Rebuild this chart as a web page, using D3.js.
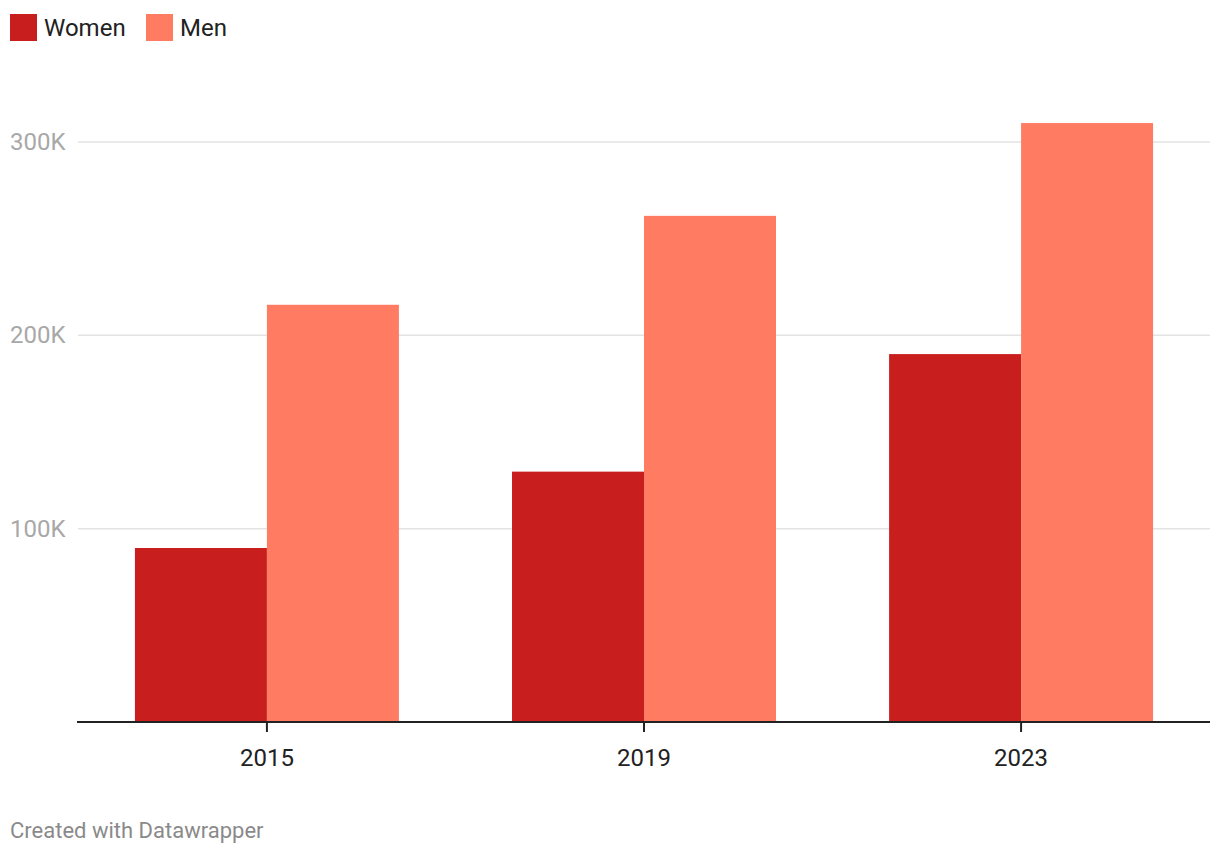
<!DOCTYPE html>
<html><head><meta charset="utf-8">
<script src="https://cdn.jsdelivr.net/npm/d3@7"></script>
<style>body{margin:0;background:#fff;font-family:Roboto,sans-serif}</style>
</head><body><svg id="c" width="1220" height="854"></svg>
<script>
const years = ["2015","2019","2023"];
const seriesNames = ["Women","Men"];
const women = [90000,129500,190300];
const men = [215800,261800,309800];
const yTicks = [100000,200000,300000];
const tickLabels = ["100K","200K","300K"];
const colors = ["#c91e1e","#ff7b62"];

const svg = d3.select("#c");
const x0 = d3.scaleBand().domain(years).range([78,1210]).paddingInner(0.3).paddingOuter(0.151);
const x1 = d3.scaleBand().domain(seriesNames).range([0,x0.bandwidth()]);
const y = d3.scaleLinear().domain([0,300000]).range([722,142]);

// grid
svg.append("g").selectAll("line").data(yTicks).join("line")
  .attr("x1",78).attr("x2",1210).attr("y1",d=>y(d)).attr("y2",d=>y(d))
  .attr("stroke","#e3e3e3").attr("stroke-width",1.5);
svg.append("g").selectAll("text").data(yTicks).join("text")
  .attr("x",10).attr("y",d=>y(d)+8).attr("fill","#a8a8a8").attr("font-size",24)
  .text((d,i)=>tickLabels[i]);

const data = years.map((yr,i)=>({yr, vals:[women[i],men[i]]}));
svg.append("g").selectAll("g").data(data).join("g")
  .attr("transform",d=>`translate(${x0(d.yr)},0)`)
  .selectAll("rect").data(d=>d.vals.map((v,j)=>({v,s:seriesNames[j],c:colors[j]}))).join("rect")
  .attr("x",d=>x1(d.s)).attr("width",x1.bandwidth())
  .attr("y",d=>y(d.v)).attr("height",d=>722-y(d.v)).attr("fill",d=>d.c);

// axis
const xAxis = d3.axisBottom(x0).tickSize(10).tickPadding(0);
const ax = svg.append("g").attr("transform","translate(0,722)").call(xAxis);
ax.select(".domain").remove();
ax.selectAll(".tick line").attr("stroke","#222").attr("stroke-width",2);
ax.selectAll(".tick text").attr("font-size",24).attr("fill","#222").attr("font-family","Roboto,sans-serif")
  .attr("y",44).attr("dy",0);
svg.append("line").attr("x1",77).attr("x2",1210).attr("y1",722).attr("y2",722).attr("stroke","#222").attr("stroke-width",2);

// legend
const lg = svg.append("g");
const lx = [10,146];
seriesNames.forEach((s,i)=>{
  lg.append("rect").attr("x",lx[i]).attr("y",14).attr("width",27).attr("height",27).attr("fill",colors[i]);
  lg.append("text").attr("x",lx[i]+34).attr("y",36).attr("font-size",24).attr("fill","#222").text(s);
});

svg.append("text").attr("x",10).attr("y",838).attr("font-size",22).attr("fill","#8a8a8a").text("Created with Datawrapper");
</script></body></html>
